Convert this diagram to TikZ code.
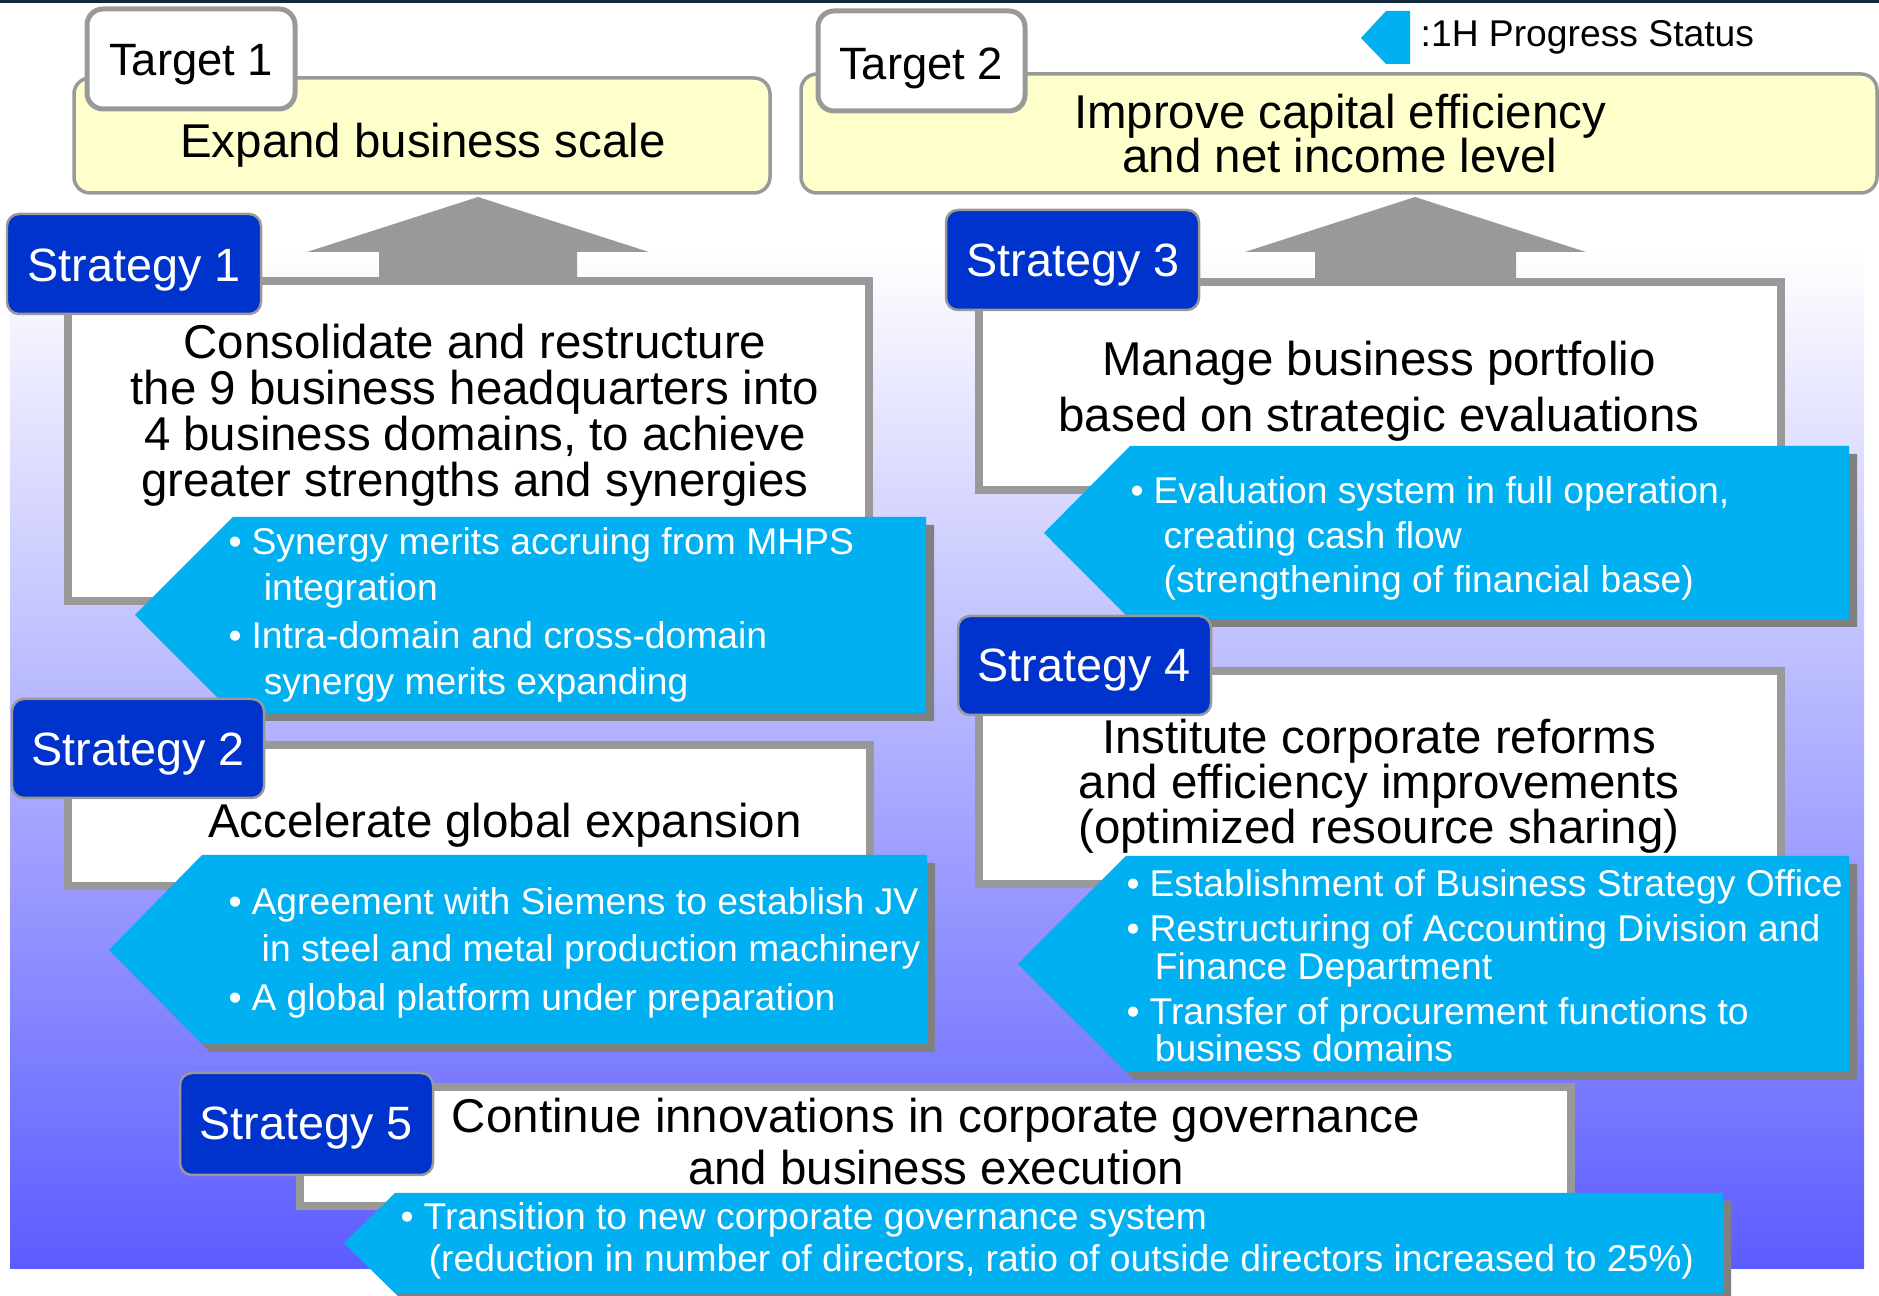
\documentclass[tikz,border=0pt]{standalone}
\usepackage{fontspec}
\setmainfont{Liberation Sans}

\definecolor{goalfill}{HTML}{FFFFCC}
\definecolor{edgegray}{HTML}{999999}
\definecolor{stratblue}{HTML}{0033CC}
\definecolor{notecyan}{HTML}{00B0F0}
\definecolor{shadowgray}{HTML}{808080}
\definecolor{bgmid}{HTML}{CACAFF}
\definecolor{bgblue}{HTML}{5C5CFF}
\definecolor{topnavy}{HTML}{14283C}

\newcommand{\bul}{•\hspace{2.8pt}}

\tikzset{
  goal/.style={draw=edgegray, line width=0.35mm, fill=goalfill, rounded corners=1.6mm},
  targetlabel/.style={draw=edgegray, line width=0.5mm, fill=white, rounded corners=1.6mm},
  stratlabel/.style={draw=edgegray, line width=0.25mm, fill=stratblue, rounded corners=1.2mm},
  stratbox/.style={draw=edgegray, line width=0.8mm, fill=white},
  note/.style={fill=notecyan},
  noteshadow/.style={fill=shadowgray, shift={(8,8)}},
  uparrow/.style={fill=edgegray},
  bigtext/.style={font=\fontsize{13.5}{#1}\selectfont, inner sep=0pt, align=center, anchor=base},
  bigtext/.default=13.1,
  targettext/.style={font=\fontsize{12.9}{14}\selectfont, inner sep=0pt, anchor=base},
  labeltext/.style={font=\fontsize{13.3}{14}\selectfont, text=white, inner sep=0pt, anchor=base},
  notetext/.style={font=\fontsize{10.6}{#1}\selectfont, text=white, inner sep=0pt, align=left, anchor=base west},
  notetext/.default=12.8,
}

\begin{document}
\begin{tikzpicture}[x=0.1mm, y=-0.1mm]
  \useasboundingbox (0,0) rectangle (1879,1296);

  % background
  \fill[topnavy] (0,0) rectangle (1879,3);
  \shade[top color=white, middle color=bgmid, bottom color=bgblue] (10,250) rectangle (1864,1269);

  % targets (multi-line texts sit on their last baseline)
  \draw[goal] (74,78) rectangle (770,193);
  \node[bigtext] (g1) at (423,158) {Expand business scale};
  \draw[targetlabel] (87,9) rectangle (295,109);
  \node[targettext] (t1) at (191,76) {Target 1};

  \draw[goal] (801,74) rectangle (1877,193);
  \node[bigtext=12.8] (g2) at (1340,173) {Improve capital efficiency\\and net income level};
  \draw[targetlabel] (818,11) rectangle (1025,111);
  \node[targettext] (t2) at (921,80) {Target 2};

  % legend
  \fill[note] (1361,38) -- (1386,11) -- (1410,11) -- (1410,64) -- (1386,64) -- cycle;
  \node[notetext, text=black] (legend) at (1420,47) {:1H Progress Status};

  % arrows up to the targets
  \fill[uparrow] (379,282) -- (379,252) -- (307,252) -- (478,197) -- (649,252) -- (577,252) -- (577,282) -- cycle;
  \fill[uparrow] (1315,282) -- (1315,252) -- (1245,252) -- (1415,197) -- (1586,252) -- (1516,252) -- (1516,282) -- cycle;

  % strategy boxes
  \draw[stratbox] (68,281) rectangle (869,601);
  \draw[stratbox] (68,745) rectangle (870,886);
  \draw[stratbox] (979,282) rectangle (1781,490);
  \draw[stratbox] (979,671) rectangle (1781,884);
  \draw[stratbox] (300,1087) rectangle (1571,1206);

  \node[bigtext] (b1) at (475,497) {Consolidate and restructure\\the 9 business headquarters into\\4 business domains, to achieve\\greater strengths and synergies};
  \node[bigtext] (b2) at (505,838) {Accelerate global expansion};
  \node[bigtext=16.2] (b3) at (1379,432) {Manage business portfolio\\based on strategic evaluations};
  \node[bigtext=12.9] (b4) at (1379,844) {Institute corporate reforms\\and efficiency improvements\\(optimized resource sharing)};
  \node[bigtext=14.8] (b5) at (936,1185) {Continue innovations in corporate governance\\and business execution};

  % progress notes
  \fill[noteshadow] (135,615) -- (233,517) -- (926,517) -- (926,713) -- (233,713) -- cycle;
  \fill[note] (135,615) -- (233,517) -- (926,517) -- (926,713) -- (233,713) -- cycle;
  \fill[noteshadow] (109,950) -- (202,855) -- (927,855) -- (927,1044) -- (202,1044) -- cycle;
  \fill[note] (109,950) -- (202,855) -- (927,855) -- (927,1044) -- (202,1044) -- cycle;
  \fill[noteshadow] (1044,533) -- (1130,446) -- (1849,446) -- (1849,619) -- (1130,619) -- cycle;
  \fill[note] (1044,533) -- (1130,446) -- (1849,446) -- (1849,619) -- (1130,619) -- cycle;
  \fill[noteshadow] (1018,964) -- (1126,856) -- (1849,856) -- (1849,1072) -- (1126,1072) -- cycle;
  \fill[note] (1018,964) -- (1126,856) -- (1849,856) -- (1849,1072) -- (1126,1072) -- cycle;
  \fill[noteshadow] (344,1243) -- (395,1193) -- (1723,1193) -- (1723,1293) -- (395,1293) -- cycle;
  \fill[note] (344,1243) -- (395,1193) -- (1723,1193) -- (1723,1293) -- (395,1293) -- cycle;

  \node[notetext=13.1] (n1) at (228,695) {\bul Synergy merits accruing from MHPS\\\hspace*{10pt}integration\\[0.6pt]\bul Intra-domain and cross-domain\\\hspace*{10pt}synergy merits expanding};
  \node[notetext=13.4] (n2) at (228,1011) {\bul Agreement with Siemens to establish JV\\\hspace*{9.4pt}in steel and metal production machinery\\[0.6pt]\bul A global platform under preparation};
  \node[notetext=12.8] (n3) at (1130,593) {\bul Evaluation system in full operation,\\\hspace*{9.4pt}creating cash flow\\\hspace*{9.4pt}(strengthening of financial base)};
  \node[notetext=10.8] (n4) at (1126,1062) {\bul Establishment of Business Strategy Office\\[2pt]\bul Restructuring of Accounting Division and\\\hspace*{8pt}Finance Department\\[2pt]\bul Transfer of procurement functions to\\\hspace*{8pt}business domains};
  \node[notetext=12.2] (n5) at (400,1272) {\bul Transition to new corporate governance system\\\hspace*{8pt}(reduction in number of directors, ratio of outside directors increased to 25\%)};

  % strategy labels
  \draw[stratlabel] (7,214) rectangle (261,314);
  \node[labeltext] (s1) at (134,282) {Strategy 1};
  \draw[stratlabel] (12,699) rectangle (264,798);
  \node[labeltext] (s2) at (138,766) {Strategy 2};
  \draw[stratlabel] (946,210) rectangle (1199,310);
  \node[labeltext] (s3) at (1073,277) {Strategy 3};
  \draw[stratlabel] (958,616) rectangle (1211,715);
  \node[labeltext] (s4) at (1084,682) {Strategy 4};
  \draw[stratlabel] (180,1073) rectangle (433,1175);
  \node[labeltext] (s5) at (306,1140) {Strategy 5};
\end{tikzpicture}
\end{document}
